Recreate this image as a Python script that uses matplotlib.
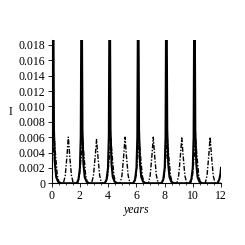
import matplotlib
matplotlib.use("Agg")
import matplotlib.pyplot as plt
from matplotlib.ticker import MultipleLocator, FuncFormatter

plt.rcParams['font.family'] = ['Liberation Serif', 'DejaVu Serif']

# solid curve (peaks run past the top)
t_solid = [0.0, 0.04, 0.1, 0.16, 0.23, 0.32, 0.45, 0.65,
           1.77, 1.9, 2.0, 2.06, 2.12, 2.18, 2.25, 2.34, 2.47, 2.67,
           3.76, 3.89, 3.99, 4.05, 4.11, 4.17, 4.24, 4.33, 4.46, 4.66,
           5.78, 5.91, 6.01, 6.07, 6.13, 6.19, 6.26, 6.35, 6.48, 6.68,
           7.78, 7.91, 8.01, 8.07, 8.13, 8.19, 8.26, 8.35, 8.48, 8.68,
           9.77, 9.9, 10.0, 10.06, 10.12, 10.18, 10.25, 10.34, 10.47, 10.67,
           11.75, 11.88, 11.96, 12.0]
I_solid = [0.002, 0.006, 0.03, 0.007, 0.0025, 0.0008, 0.0002, 0.0,
           0.0, 0.0005, 0.002, 0.006, 0.03, 0.007, 0.0025, 0.0008, 0.0002, 0.0,
           0.0, 0.0005, 0.002, 0.006, 0.03, 0.007, 0.0025, 0.0008, 0.0002, 0.0,
           0.0, 0.0005, 0.002, 0.006, 0.03, 0.007, 0.0025, 0.0008, 0.0002, 0.0,
           0.0, 0.0005, 0.002, 0.006, 0.03, 0.007, 0.0025, 0.0008, 0.0002, 0.0,
           0.0, 0.0005, 0.002, 0.006, 0.03, 0.007, 0.0025, 0.0008, 0.0002, 0.0,
           0.0, 0.0005, 0.0012, 0.002]

# dash-dot curve
t_dash = [0.0, 0.08, 0.18, 0.28, 0.4, 0.53,
          0.83, 0.96, 1.08, 1.18, 1.28, 1.4, 1.53,
          1.84, 1.97, 2.09, 2.19, 2.29, 2.41, 2.54,
          2.83, 2.96, 3.08, 3.18, 3.28, 3.4, 3.53,
          3.84, 3.97, 4.09, 4.19, 4.29, 4.41, 4.54,
          4.85, 4.98, 5.1, 5.2, 5.3, 5.42, 5.55,
          5.85, 5.98, 6.1, 6.2, 6.3, 6.42, 6.55,
          6.85, 6.98, 7.1, 7.2, 7.3, 7.42, 7.55,
          7.85, 7.98, 8.1, 8.2, 8.3, 8.42, 8.55,
          8.87, 9.0, 9.12, 9.22, 9.32, 9.44, 9.57,
          9.85, 9.98, 10.1, 10.2, 10.3, 10.42, 10.55,
          10.88, 11.01, 11.13, 11.23, 11.33, 11.45, 11.58, 12.0]
I_dash = [0.0015, 0.0035, 0.006, 0.0035, 0.001, 0.0,
          0.0, 0.001, 0.0035, 0.006, 0.0035, 0.001, 0.0,
          0.0, 0.001, 0.0035, 0.0058, 0.0035, 0.001, 0.0,
          0.0, 0.001, 0.0034, 0.0057, 0.0034, 0.001, 0.0,
          0.0, 0.001, 0.0035, 0.0058, 0.0035, 0.001, 0.0,
          0.0, 0.001, 0.0035, 0.006, 0.0035, 0.001, 0.0,
          0.0, 0.001, 0.0035, 0.0058, 0.0035, 0.001, 0.0,
          0.0, 0.001, 0.0035, 0.006, 0.0035, 0.001, 0.0,
          0.0, 0.001, 0.0035, 0.0058, 0.0035, 0.001, 0.0,
          0.0, 0.001, 0.0035, 0.0059, 0.0035, 0.001, 0.0,
          0.0, 0.001, 0.0035, 0.0058, 0.0035, 0.001, 0.0,
          0.0, 0.001, 0.0035, 0.006, 0.0035, 0.001, 0.0, 0.0]

fig = plt.figure(figsize=(2.45, 2.45), dpi=100)
ax = fig.add_axes([0.211, 0.252, 0.691, 0.585])

ax.plot(t_solid, I_solid, color='black', lw=1.5)
ax.plot(t_dash, I_dash, color='black', lw=1.0, linestyle=(0, (3.5, 1.2, 1, 1.2)))

ax.set_xlim(0, 12)
ax.set_ylim(0, 0.01865)
for s in ['top', 'right']:
    ax.spines[s].set_visible(False)
for s in ['left', 'bottom']:
    ax.spines[s].set_linewidth(0.8)

ax.xaxis.set_major_locator(MultipleLocator(2))
ax.xaxis.set_minor_locator(MultipleLocator(0.5))
ax.yaxis.set_major_locator(MultipleLocator(0.002))
ax.yaxis.set_major_formatter(FuncFormatter(lambda v, p: '0' if abs(v) < 1e-12 else f'{v:.3f}'))
ax.tick_params(which='major', length=3, width=0.6, labelsize=8.5, pad=1.5)
ax.tick_params(which='minor', length=1.5, width=0.5)

ax.set_xlabel('years', fontsize=8.5, style='italic', labelpad=2)
ax.set_ylabel('I', fontsize=8.5, rotation=0, labelpad=6, va='center')

fig.savefig('out.png', dpi=100)
